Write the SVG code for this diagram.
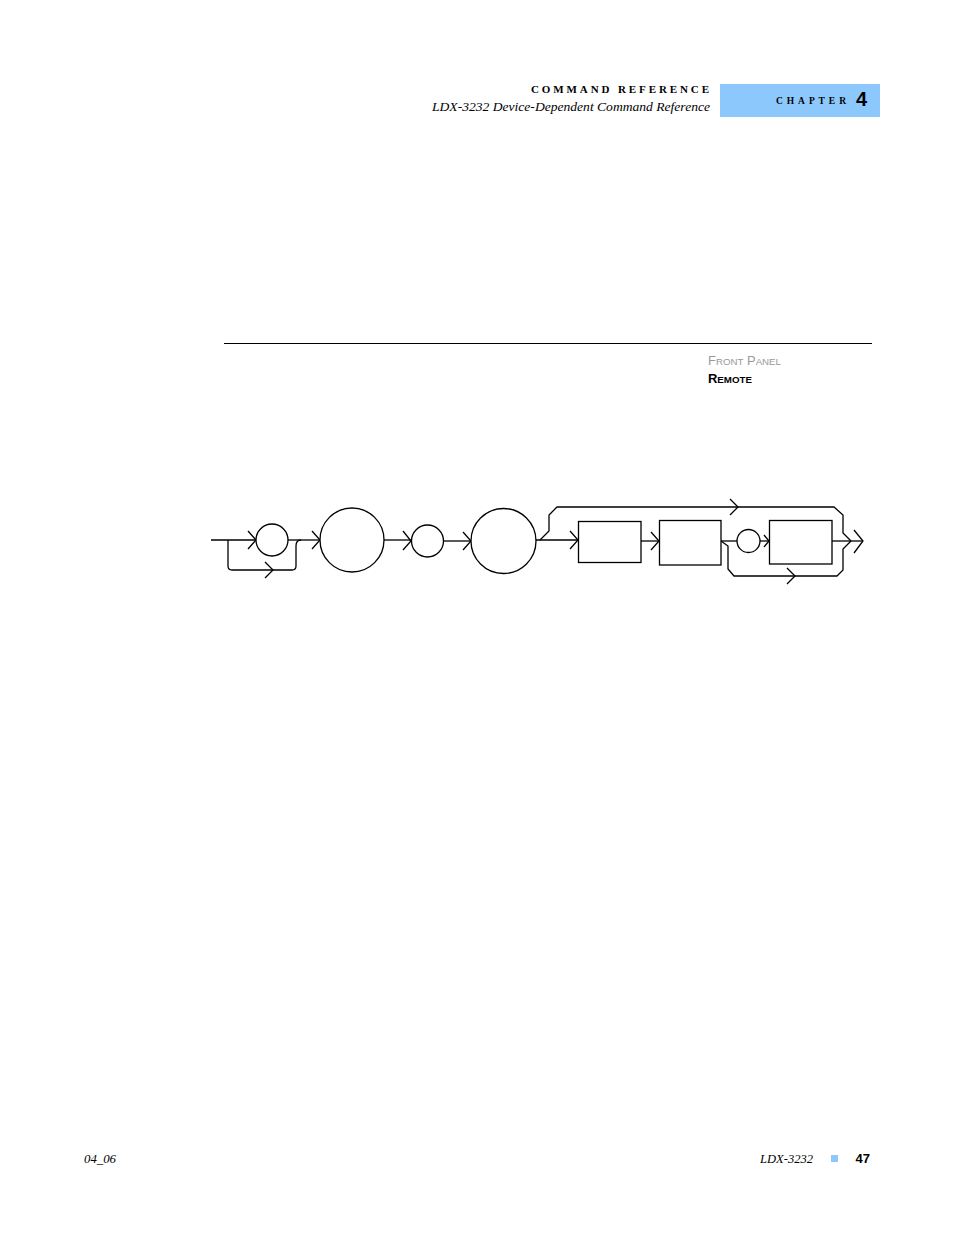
<svg xmlns="http://www.w3.org/2000/svg" width="954" height="1235" viewBox="0 0 954 1235">
<style>
.ln{fill:none;stroke:#000;stroke-width:1.3;stroke-linejoin:miter}
.nd{fill:#fff;stroke:#000;stroke-width:1.3}
.hd{font-family:"Liberation Serif","DejaVu Serif",serif;font-weight:bold;fill:#000}
.it{font-family:"Liberation Serif","DejaVu Serif",serif;font-style:italic;fill:#000}
.sn{font-family:"Liberation Sans","DejaVu Sans",sans-serif}
</style>
<rect x="0" y="0" width="954" height="1235" fill="#fff"/>
<g id="header">
<text class="hd" x="531" y="93" font-size="11" textLength="178" lengthAdjust="spacing">COMMAND REFERENCE</text>
<text class="it" x="432" y="111" font-size="12.5" textLength="278" lengthAdjust="spacingAndGlyphs">LDX-3232 Device-Dependent Command Reference</text>
<rect x="720" y="84" width="160" height="33" fill="#8dc8fd"/>
<text class="hd" x="776" y="104" font-size="9.5" textLength="70" lengthAdjust="spacing">CHAPTER</text>
<text class="sn" x="856" y="106" font-size="20" font-weight="bold">4</text>
</g>
<line x1="224" y1="343.5" x2="872" y2="343.5" stroke="#000" stroke-width="1"/>
<g id="access">
<text class="sn" x="708" y="365" font-size="12" fill="#999" textLength="73" lengthAdjust="spacingAndGlyphs">F<tspan font-size="9">RONT</tspan> P<tspan font-size="9">ANEL</tspan></text>
<text class="sn" x="708" y="383" font-size="12" font-weight="bold" fill="#000" textLength="44" lengthAdjust="spacingAndGlyphs">R<tspan font-size="9">EMOTE</tspan></text>
</g>
<g id="connectors">
<path class="ln" d="M211,540 L256,540" stroke-width="2"/>
<path class="ln" d="M248,531 L256,540 L248,549"/>
<path class="ln" d="M228,540 L228,566 Q228,570 232,570 L292,570 Q296,570 296,566 L296,546 Q296,540 301,540"/>
<path class="ln" d="M265,562 L273,570 L265,578"/>
<path class="ln" d="M288,540 L320,540"/>
<path class="ln" d="M312,531 L320,540 L312,549"/>
<path class="ln" d="M384,540 L411,540"/>
<path class="ln" d="M403,531 L411,541 L403,550"/>
<path class="ln" d="M443,541 L471,541"/>
<path class="ln" d="M463,532 L471,541 L463,550"/>
<path class="ln" d="M535,540 L578,540"/>
<path class="ln" d="M570,531 L578,540 L570,549"/>
<path class="ln" d="M641,541 L659,541"/>
<path class="ln" d="M651,532 L659,541 L651,550"/>
<path class="ln" d="M721,541 L737,541"/>
<path class="ln" d="M760,541 L769,541"/>
<path class="ln" d="M764,535 L769,541 L764,547"/>
<path class="ln" d="M832,541 L862,541"/>
<path class="ln" d="M854,530 L863,541 L854,553"/>
<path class="ln" d="M540,540 L549,531 L549,515 L557,507 L834,507 L843,515 L843,533 L851,541"/>
<path class="ln" d="M730,499 L738,507 L730,515"/>
<path class="ln" d="M721,541 L728,546 L728,569 L734,576 L837,576 L843,570 L843,549 L851,541"/>
<path class="ln" d="M787,568 L795,576 L787,584"/>
</g>
<g id="n1"><circle class="nd" cx="272" cy="540" r="16"/></g>
<g id="n2"><circle class="nd" cx="352" cy="540" r="32"/></g>
<g id="n3"><circle class="nd" cx="427.5" cy="541" r="16"/></g>
<g id="n4"><circle class="nd" cx="503.5" cy="541" r="32.5"/></g>
<g id="n5"><rect class="nd" x="578.5" y="521.5" width="62.5" height="41"/></g>
<g id="n6"><rect class="nd" x="659.5" y="520.5" width="61.5" height="44.5"/></g>
<g id="n7"><circle class="nd" cx="748.5" cy="541" r="11.5"/></g>
<g id="n8"><rect class="nd" x="769.5" y="520.5" width="62.5" height="43.5"/></g>
<g id="footer">
<text class="it" x="84" y="1163" font-size="12" textLength="32" lengthAdjust="spacingAndGlyphs">04_06</text>
<text class="it" x="760" y="1163" font-size="12" textLength="53" lengthAdjust="spacingAndGlyphs">LDX-3232</text>
<rect x="831" y="1155" width="7" height="7" fill="#8dc8fd"/>
<text class="sn" x="870" y="1163" font-size="13" font-weight="bold" text-anchor="end">47</text>
</g>
</svg>
